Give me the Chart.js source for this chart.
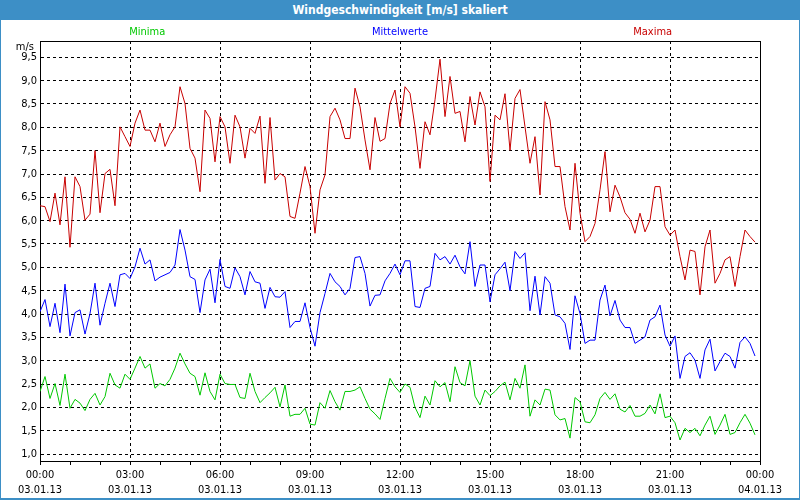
<!DOCTYPE html>
<html>
<head>
<meta charset="utf-8">
<script src="https://cdn.jsdelivr.net/npm/chart.js@4.4.1/dist/chart.umd.min.js"></script>
<style>
  html, body { margin: 0; padding: 0; background: #ffffff; }
  #wrap { position: relative; width: 800px; height: 500px; overflow: hidden; background: #fff; }
  #titlebar { position: absolute; left: 0; top: 0; width: 800px; height: 20px; background: #3d8fc6;
    color: #ffffff; font: bold 12px 'DejaVu Sans Condensed', 'Liberation Sans', sans-serif;
    text-align: center; line-height: 20px; }
  #chart { position: absolute; left: 0; top: 20px; }
  #frame { position: absolute; left: 0; top: 0; width: 800px; height: 500px; box-sizing: border-box;
    border: 1px solid #3d8fc6; border-bottom-width: 2px; pointer-events: none; }
</style>
</head>
<body>
<div id="wrap">
  <div id="titlebar">Windgeschwindigkeit [m/s] skaliert</div>
  <canvas id="chart" width="800" height="480"></canvas>
  <div id="frame"></div>
</div>
<script>
// ---- data (10-minute values, 03.01.13 00:00 .. 23:50) ----
const seriesNames = ['Minima', 'Mittelwerte', 'Maxima'];
const seriesColors = ['#00c800', '#0000ff', '#c80000'];
const intervalMinutes = 10;

const minima = [
  2.34, 2.66, 2.19, 2.51, 2.04, 2.71, 1.98, 2.17, 2.09, 1.93, 2.17, 2.30, 2.05, 2.23, 2.73, 2.48, 2.41, 2.71,
  2.60, 2.84, 3.09, 2.84, 2.93, 2.41, 2.51, 2.46, 2.60, 2.84, 3.16, 2.93, 2.73, 2.66, 2.26, 2.74, 2.34, 2.16,
  2.71, 2.51, 2.49, 2.49, 2.21, 2.19, 2.73, 2.34, 2.10, 2.21, 2.31, 2.43, 2.01, 2.48, 1.81, 1.85, 1.85, 1.98,
  1.64, 1.62, 2.10, 1.98, 2.36, 2.12, 1.94, 2.34, 2.34, 2.37, 2.44, 2.19, 1.96, 1.86, 1.74, 2.19, 2.62, 2.44,
  2.32, 2.50, 2.43, 2.00, 1.78, 2.24, 2.05, 2.57, 2.44, 2.53, 2.12, 2.87, 2.53, 2.46, 3.00, 2.24, 2.05, 2.37,
  2.25, 2.34, 2.46, 2.54, 2.16, 2.62, 2.41, 2.91, 1.81, 2.16, 2.05, 2.39, 2.37, 1.84, 1.73, 1.76, 1.34, 2.21,
  2.12, 1.69, 1.67, 1.84, 2.19, 2.32, 2.17, 2.29, 1.96, 1.90, 2.04, 1.81, 1.81, 1.87, 2.05, 1.86, 2.29, 1.78,
  1.81, 1.67, 1.30, 1.55, 1.46, 1.55, 1.39, 1.62, 1.81, 1.42, 1.62, 1.85, 1.42, 1.46, 1.67, 1.85, 1.66, 1.41
];

const mittelwerte = [
  4.05, 4.31, 3.73, 4.23, 3.60, 4.64, 3.53, 4.03, 4.09, 3.57, 4.01, 4.66, 3.76, 4.23, 4.66, 4.16, 4.84, 4.87,
  4.76, 5.01, 5.41, 5.07, 5.16, 4.71, 4.79, 4.84, 4.89, 5.05, 5.81, 5.37, 4.80, 4.74, 4.03, 4.73, 4.96, 4.24,
  5.17, 4.59, 4.55, 4.99, 4.80, 4.41, 4.91, 4.69, 4.66, 4.12, 4.57, 4.37, 4.36, 4.48, 3.71, 3.84, 3.84, 4.24,
  3.71, 3.31, 4.03, 4.44, 4.87, 4.69, 4.59, 4.41, 4.55, 5.21, 5.23, 4.87, 4.17, 4.40, 4.41, 4.71, 4.87, 5.07,
  4.84, 5.14, 5.14, 4.16, 4.14, 4.55, 4.59, 5.30, 5.16, 5.23, 5.07, 5.26, 5.01, 4.86, 5.55, 4.59, 5.05, 5.05,
  4.26, 4.84, 4.97, 5.11, 4.50, 5.34, 5.19, 5.31, 4.07, 4.81, 3.98, 4.80, 4.66, 3.98, 3.94, 3.80, 3.24, 4.39,
  4.01, 3.37, 3.44, 3.44, 4.30, 4.62, 3.96, 4.29, 3.87, 3.71, 3.71, 3.37, 3.44, 3.51, 3.87, 3.94, 4.19, 3.55,
  3.31, 3.53, 2.62, 3.09, 3.17, 3.01, 2.62, 3.23, 3.46, 2.78, 2.98, 3.16, 3.09, 2.84, 3.39, 3.51, 3.37, 3.10
];

const maxima = [
  6.32, 6.30, 5.98, 6.59, 5.91, 6.94, 5.43, 6.94, 6.73, 6.01, 6.14, 7.50, 6.17, 7.01, 7.10, 6.32, 8.01, 7.80,
  7.59, 8.09, 8.37, 7.94, 7.94, 7.69, 8.09, 7.59, 7.84, 8.01, 8.87, 8.51, 7.55, 7.34, 6.62, 8.37, 8.19, 7.26,
  8.23, 8.01, 7.23, 8.26, 8.01, 7.34, 7.98, 7.87, 8.24, 6.80, 8.21, 6.87, 7.01, 6.94, 6.09, 6.05, 6.59, 7.16,
  6.73, 5.73, 6.66, 6.98, 8.23, 8.41, 8.16, 7.76, 7.76, 8.84, 8.44, 7.73, 7.09, 8.21, 7.70, 7.76, 8.51, 8.80,
  8.01, 8.87, 8.73, 8.01, 7.12, 8.12, 7.84, 8.59, 9.46, 8.23, 9.09, 8.30, 8.34, 7.69, 8.66, 8.05, 8.76, 8.44,
  6.84, 8.26, 8.16, 8.72, 7.51, 8.62, 8.81, 8.01, 7.23, 7.80, 6.55, 8.55, 8.16, 7.16, 7.16, 6.30, 5.80, 7.23,
  6.16, 5.55, 5.66, 5.94, 6.66, 7.48, 6.19, 6.76, 6.51, 6.17, 6.03, 5.73, 6.16, 5.76, 6.01, 6.73, 6.73, 5.87,
  5.69, 5.80, 5.23, 4.73, 5.37, 5.34, 4.41, 5.44, 5.80, 4.66, 4.87, 5.16, 5.23, 4.59, 5.23, 5.80, 5.66, 5.54
];

const yTickValues = [1.0, 1.5, 2.0, 2.5, 3.0, 3.5, 4.0, 4.5, 5.0, 5.5, 6.0, 6.5, 7.0, 7.5, 8.0, 8.5, 9.0, 9.5];
const xTickLabels = [
  ['00:00', '03.01.13'], ['03:00', '03.01.13'], ['06:00', '03.01.13'], ['09:00', '03.01.13'],
  ['12:00', '03.01.13'], ['15:00', '03.01.13'], ['18:00', '03.01.13'], ['21:00', '03.01.13'],
  ['00:00', '04.01.13']
];
const yUnit = 'm/s';

// ---- chart ----
const FONT = "'DejaVu Sans Condensed', 'Liberation Sans', sans-serif";
const minutes = maxima.map((_, i) => i * intervalMinutes);
const labelEveryMin = 180;

const overlay = {
  id: 'overlay',
  afterDraw(chart) {
    const { ctx, chartArea: a } = chart;
    ctx.save();
    ctx.strokeStyle = '#000';
    ctx.lineWidth = 1;
    ctx.setLineDash([]);
    ctx.beginPath();
    ctx.moveTo(Math.round(a.left) + 0.5, Math.round(a.top) + 0.5);
    ctx.lineTo(Math.round(a.right) + 0.5, Math.round(a.top) + 0.5);
    ctx.lineTo(Math.round(a.right) + 0.5, Math.round(a.bottom) + 0.5);
    ctx.stroke();
    ctx.font = '11px ' + FONT;
    ctx.textBaseline = 'middle';
    ctx.textAlign = 'center';
    const fr = [0.149, 0.5, 0.851];
    seriesNames.forEach((n, k) => {
      ctx.fillStyle = seriesColors[k];
      ctx.fillText(n, a.left + (a.right - a.left) * fr[k], 12);
    });
    ctx.fillStyle = '#000';
    ctx.textAlign = 'right';
    ctx.fillText(yUnit, 34, 27);
    ctx.restore();
  }
};

new Chart(document.getElementById('chart'), {
  type: 'line',
  data: {
    labels: minutes,
    datasets: [minima, mittelwerte, maxima].map((d, k) => ({
      label: seriesNames[k],
      data: d,
      borderColor: seriesColors[k],
      backgroundColor: seriesColors[k],
      borderWidth: 1,
      pointRadius: 0,
      tension: 0,
      fill: false
    }))
  },
  options: {
    responsive: false,
    devicePixelRatio: 1,
    animation: false,
    events: [],
    layout: { padding: { top: 21, right: 40, left: 0, bottom: 0 } },
    plugins: { legend: { display: false }, title: { display: false }, tooltip: { enabled: false } },
    scales: {
      x: {
        type: 'linear',
        min: 0,
        max: 1440,
        afterBuildTicks(scale) {
          const t = [];
          for (let m = 0; m <= 1440; m += 60) t.push({ value: m });
          scale.ticks = t;
        },
        afterFit(scale) { scale.height = 39; },
        ticks: {
          autoSkip: false,
          maxRotation: 0,
          color: '#000',
          padding: 3,
          font: { family: FONT, size: 11, lineHeight: 1.36 },
          callback: (v) => (v % labelEveryMin === 0 ? xTickLabels[v / labelEveryMin] : '')
        },
        grid: {
          color: (c) => (c.tick && c.tick.value % labelEveryMin === 0 ? '#000' : 'rgba(0,0,0,0)'),
          tickColor: '#000',
          tickLength: 4,
          lineWidth: 1
        },
        border: { display: true, color: '#000', width: 1, dash: [3, 3] }
      },
      y: {
        type: 'linear',
        min: 0.85,
        max: 9.85,
        afterBuildTicks(scale) { scale.ticks = yTickValues.map(v => ({ value: v })); },
        afterFit(scale) { scale.width = 40; },
        ticks: {
          color: '#000',
          padding: 3,
          font: { family: FONT, size: 11 },
          callback: (v) => v.toFixed(1).replace('.', ',')
        },
        grid: { color: '#000', drawTicks: false, lineWidth: 1 },
        border: { display: true, color: '#000', width: 1, dash: [3, 3] }
      }
    }
  },
  plugins: [overlay]
});
</script>
</body>
</html>
